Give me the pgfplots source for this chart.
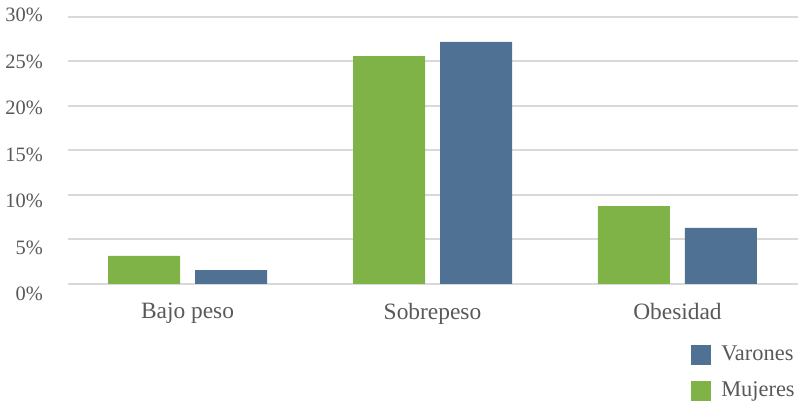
\documentclass[border=0pt]{standalone}
\usepackage{fontspec}
\setmainfont{Liberation Serif}
\usepackage{pgfplots}
\pgfplotsset{compat=1.18}
\definecolor{vgreen}{HTML}{7FB347}
\definecolor{vblue}{HTML}{4F7193}
\definecolor{tgray}{HTML}{595959}
\definecolor{gridc}{HTML}{D9D9D9}
\begin{document}
\begin{tikzpicture}
\useasboundingbox (0,0) rectangle (798bp,405bp);
\begin{axis}[
 at={(68bp,121bp)}, anchor=south west,
 scale only axis, width=730bp, height=267bp,
 ymin=0, ymax=30, xmin=-0.488, xmax=2.492,
 ybar=15bp, bar width=72bp,
 axis line style={draw=none},
 major tick length=0pt,
 /pgf/number format/assume math mode=true,
 ytick={0,5,...,30},
 ymajorgrids, grid style={color=gridc, line width=2bp},
 xtick={0,1,2}, xticklabels={Bajo peso, Sobrepeso, Obesidad},
 xticklabel style={font=\fontsize{23.5}{26}\selectfont, text=tgray, anchor=north, inner sep=0pt, yshift=-19bp},
 yticklabel={\pgfmathsetmacro{\ys}{1.7-(30-\tick)*0.39}\raisebox{\ys bp}[\height][\depth]{\pgfmathprintnumber{\tick}\%}},
 yticklabel style={font=\fontsize{20.5}{24}\selectfont, text=tgray, anchor=east, inner sep=0pt, xshift=-25bp},
 reverse legend,
 legend style={at={(0.8535,-0.2284)}, anchor=north west, draw=none, fill=none, inner sep=0pt,
   font=\fontsize{22.5}{24}\selectfont, text=tgray, row sep=16bp, column sep=10bp,
   nodes={inner sep=0pt, text height=15bp, text depth=5bp}},
 legend cell align=left,
 legend image code/.code={\fill[#1, draw=none] (0bp,-10bp) rectangle (20bp,10bp);},
 clip=false,
]
\addplot[fill=vgreen, draw=none] coordinates {(0,3.15) (1,25.6) (2,8.76)};
\addplot[fill=vblue, draw=none] coordinates {(0,1.57) (1,27.2) (2,6.3)};
\legend{Mujeres, Varones}
\end{axis}
\end{tikzpicture}
\end{document}
